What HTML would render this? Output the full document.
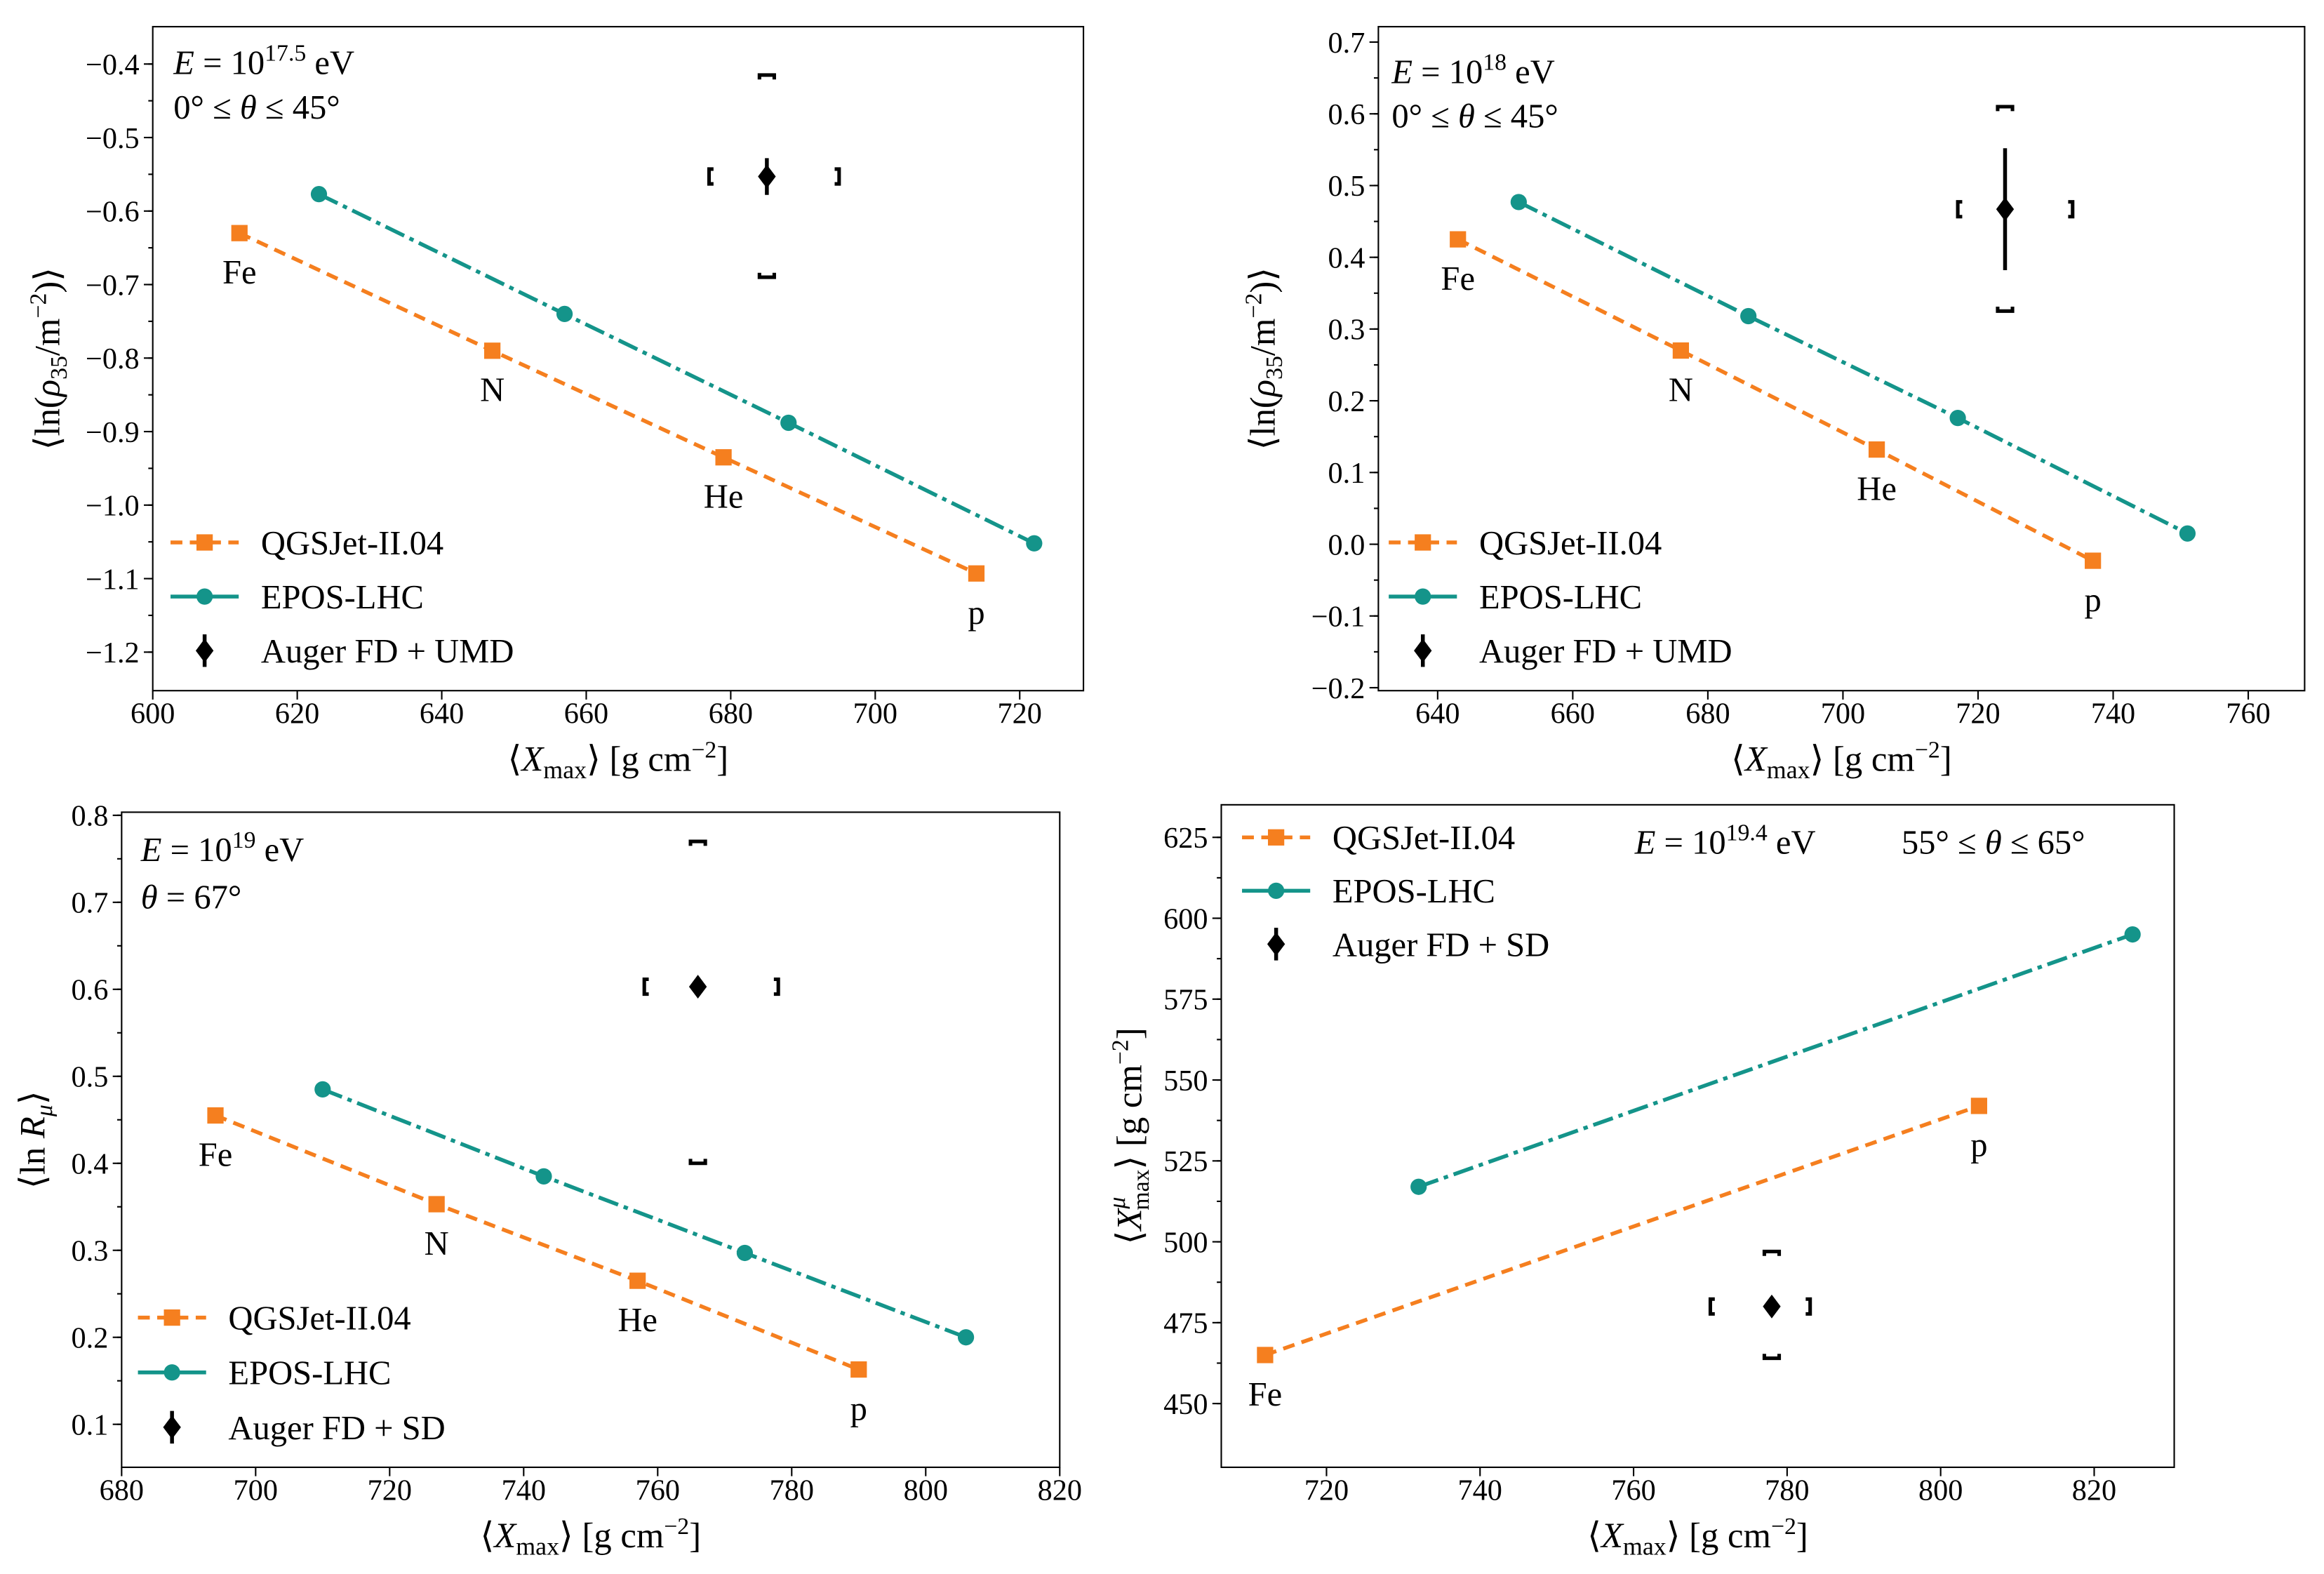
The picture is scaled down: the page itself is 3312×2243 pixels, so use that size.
<!DOCTYPE html>
<html><head><meta charset="utf-8"><style>
html,body{margin:0;padding:0;background:#fff}
svg{display:block}
text{font-family:"Liberation Serif",serif;fill:#000}
</style></head><body>
<svg id="fig" width="3312" height="2243" viewBox="0 0 1568 1062" xmlns="http://www.w3.org/2000/svg"></svg>
<script>
// Panel 1 data
const p1QgsX=[612,647,679,714], p1QgsY=[-0.63,-0.79,-0.935,-1.093];
const p1EposX=[623,657,688,722], p1EposY=[-0.577,-0.74,-0.888,-1.052];
const p1Auger=[685,-0.553,0.025], p1Sys=[677,695,-0.415,-0.69];
const p1XTicks=[600,620,640,660,680,700,720];
const p1YTicks=[-0.4,-0.5,-0.6,-0.7,-0.8,-0.9,-1.0,-1.1,-1.2];
// Panel 2 data
const p2QgsX=[643,676,705,737], p2QgsY=[0.425,0.27,0.132,-0.023];
const p2EposX=[652,686,717,751], p2EposY=[0.477,0.318,0.176,0.015];
const p2Auger=[724,0.467,0.085], p2Sys=[717,734,0.61,0.325];
const p2XTicks=[640,660,680,700,720,740,760];
const p2YTicks=[0.7,0.6,0.5,0.4,0.3,0.2,0.1,0.0,-0.1,-0.2];
// Panel 3 data
const p3QgsX=[694,727,757,790], p3QgsY=[0.455,0.353,0.265,0.163];
const p3EposX=[710,743,773,806], p3EposY=[0.485,0.385,0.297,0.2];
const p3Auger=[766,0.603,0.004], p3Sys=[758,778,0.77,0.40];
const p3XTicks=[680,700,720,740,760,780,800,820];
const p3YTicks=[0.8,0.7,0.6,0.5,0.4,0.3,0.2,0.1];
// Panel 4 data
const p4QgsX=[712,805], p4QgsY=[465,542];
const p4EposX=[732,825], p4EposY=[517,595];
const p4Auger=[778,480,1], p4Sys=[770,783,497,464];
const p4XTicks=[720,740,760,780,800,820];
const p4YTicks=[625,600,575,550,525,500,475,450];

const NS="http://www.w3.org/2000/svg", svg=document.getElementById('fig');
const OR="#f57f1f", TE="#14948a";
function mk(tag,at,par){const e=document.createElementNS(NS,tag);for(const k in at)e.setAttribute(k,at[k]);(par||svg).appendChild(e);return e;}
function fmt(v,d){let s=v.toFixed(d);if(v<0)s="\u2212"+s.slice(1);return s;}

function panel(cfg){
  const g=mk('g',{});
  
  
  const X=v=>cfg.bx0+(v-cfg.x0)/(cfg.x1-cfg.x0)*(cfg.bx1-cfg.bx0);
  const Y=v=>cfg.by1-(v-cfg.y0)/(cfg.y1-cfg.y0)*(cfg.by1-cfg.by0);
  const fr=mk('rect',{x:cfg.bx0,y:cfg.by0,width:cfg.bx1-cfg.bx0,height:cfg.by1-cfg.by0,fill:'none',stroke:'#000','stroke-width':1},g);
  
  
  cfg.xt.forEach(v=>{const x=X(v);mk('line',{x1:x,x2:x,y1:cfg.by1,y2:cfg.by1+6,stroke:'#000'},g);
    const t=mk('text',{x:x,y:cfg.by1+22,'text-anchor':'middle','font-size':20},g);t.textContent=String(v);
    
    });
  const ys=cfg.yt[0]-cfg.yt[1];
  for(let v=cfg.yt[cfg.yt.length-1];v<=cfg.yt[0]+1e-9;v+=ys/2){const y=Y(v);if(y<cfg.by0-1||y>cfg.by1+1)continue;mk('line',{x1:cfg.bx0-3,x2:cfg.bx0,y1:y,y2:y,stroke:'#000'},g);}
  cfg.yt.forEach(v=>{const y=Y(v);mk('line',{x1:cfg.bx0-6,x2:cfg.bx0,y1:y,y2:y,stroke:'#000'},g);
    const t=mk('text',{x:cfg.bx0-9,y:y+7,'text-anchor':'end','font-size':20},g);t.textContent=fmt(v,cfg.yd);
    
    });
  const xl=mk('text',{x:(cfg.bx0+cfg.bx1)/2,y:cfg.by1+54,'text-anchor':'middle','font-size':24},g);
  xl.innerHTML='⟨<tspan font-style="italic">X</tspan><tspan font-size="17" dy="5">max</tspan><tspan dy="-5">⟩ [g cm</tspan><tspan font-size="16" dy="-9">−2</tspan><tspan dy="9">]</tspan>';
  
  
  const yl=mk('text',{x:0,y:0,'text-anchor':'middle','font-size':24,transform:`translate(${cfg.ylx},${(cfg.by0+cfg.by1)/2}) rotate(-90)`},g);
  yl.innerHTML=cfg.ylab;
  
  
  function series(xs,ys,col,dash,sq,nm){
    const pl=mk('polyline',{points:xs.map((x,i)=>X(x)+','+Y(ys[i])).join(' '),fill:'none',stroke:col,'stroke-width':2.6,'stroke-dasharray':dash},g);
    
    
    xs.forEach((x,i)=>{let m;
      if(sq)m=mk('rect',{x:X(x)-5.5,y:Y(ys[i])-5.5,width:11,height:11,fill:col},g);
      else m=mk('circle',{cx:X(x),cy:Y(ys[i]),r:5.5,fill:col},g);
      
      });
  }
  series(cfg.qx,cfg.qy,OR,'8,5',true,'qgsjet');
  series(cfg.ex,cfg.ey,TE,'14,4,3,4',false,'epos');
  cfg.qx.forEach((x,i)=>{if(!cfg.labs[i])return;const t=mk('text',{x:X(x),y:Y(cfg.qy[i])+34,'text-anchor':'middle','font-size':23},g);t.textContent=cfg.labs[i];
    
    });
  const [ax,ay,ae]=cfg.aug, ag=mk('g',{},g);
  
  
  const px=X(ax),py=Y(ay);
  mk('line',{x1:px,x2:px,y1:Y(ay+ae),y2:Y(ay-ae),stroke:'#000','stroke-width':2.6},ag);
  mk('path',{d:`M${px} ${py-8}L${px+6} ${py}L${px} ${py+8}L${px-6} ${py}Z`,fill:'#000'},ag);
  const [sx0,sx1,sy0,sy1]=cfg.sys,w=5,sg=mk('g',{fill:'none',stroke:'#000','stroke-width':2.4},g);
  
  
  const a=X(sx0),b=X(sx1),c=Y(sy0),d=Y(sy1);
  mk('path',{d:`M${px-w} ${c+3}V${c}H${px+w}V${c+3}M${px-w} ${d-3}V${d}H${px+w}V${d-3}M${a+3} ${py-w}H${a}V${py+w}H${a+3}M${b-3} ${py-w}H${b}V${py+w}H${b-3}`},sg);
  const L=cfg.leg,lg=mk('g',{},g);
  
  
  const ent=[['QGSJet-II.04',OR,'8,5','sq'],['EPOS-LHC',TE,'',"ci"],[cfg.augName,'#000','','di']];
  ent.forEach((e,i)=>{const y=L.y+i*L.dy,mx=L.x+23;
    if(i<2){mk('line',{x1:L.x,x2:L.x+46,y1:y,y2:y,stroke:e[1],'stroke-width':2.6,'stroke-dasharray':e[2]},lg);
      if(e[3]=='sq')mk('rect',{x:mx-5.5,y:y-5.5,width:11,height:11,fill:e[1]},lg);else mk('circle',{cx:mx,cy:y,r:5.5,fill:e[1]},lg);}
    else{mk('line',{x1:mx,x2:mx,y1:y-11,y2:y+11,stroke:'#000','stroke-width':2.6},lg);mk('path',{d:`M${mx} ${y-8}L${mx+6} ${y}L${mx} ${y+8}L${mx-6} ${y}Z`},lg);}
    const t=mk('text',{x:L.x+61,y:y+8,'font-size':23},lg);t.textContent=e[0];
    
    });
  cfg.ann.forEach(a=>{const t=mk('text',{x:a[0],y:a[1],'font-size':23},g);t.innerHTML=a[2];
    
    });
}
const rho='⟨ln(<tspan font-style="italic">ρ</tspan><tspan font-size="16" dy="5">35</tspan><tspan dy="-5">/m</tspan><tspan font-size="16" dy="-9">−2</tspan><tspan dy="9">)⟩</tspan>';
const it=s=>`<tspan font-style="italic">${s}</tspan>`;
panel({name:'panel-e17-5',bx0:103,bx1:731,by0:18,by1:466,x0:600,x1:600+628/4.875,y0:-1.2-(466-440)/496,y1:-1.2+(466-18-26)/496,
  xt:p1XTicks,yt:p1YTicks,yd:1,ylx:40,ylab:rho,qx:p1QgsX,qy:p1QgsY,ex:p1EposX,ey:p1EposY,labs:['Fe','N','He','p'],
  aug:p1Auger,sys:p1Sys,augName:'Auger FD + UMD',leg:{x:115,y:366,dy:36.5},
  ann:[[117,50,it('E')+' = 10<tspan font-size="16" dy="-9">17.5</tspan><tspan dy="9"> eV</tspan>'],[117,80,'0° ≤ '+it('θ')+' ≤ 45°']]});
panel({name:'panel-e18',bx0:930,bx1:1555,by0:18,by1:466,x0:640-40/4.558,x1:640+(1555-970)/4.558,y0:-0.2-2/484,y1:-0.2+446/484,
  xt:p2XTicks,yt:p2YTicks,yd:1,ylx:860,ylab:rho,qx:p2QgsX,qy:p2QgsY,ex:p2EposX,ey:p2EposY,labs:['Fe','N','He','p'],
  aug:p2Auger,sys:p2Sys,augName:'Auger FD + UMD',leg:{x:937,y:366,dy:36.5},
  ann:[[939,56,it('E')+' = 10<tspan font-size="16" dy="-9">18</tspan><tspan dy="9"> eV</tspan>'],[939,86,'0° ≤ '+it('θ')+' ≤ 45°']]});
panel({name:'panel-e19',bx0:82,bx1:715,by0:548,by1:990,x0:680,x1:820,y0:0.1-29/587,y1:0.1+413/587,
  xt:p3XTicks,yt:p3YTicks,yd:1,ylx:30,ylab:'⟨ln '+it('R')+'<tspan font-size="16" dy="5" font-style="italic">μ</tspan><tspan dy="-5">⟩</tspan>',
  qx:p3QgsX,qy:p3QgsY,ex:p3EposX,ey:p3EposY,labs:['Fe','N','He','p'],
  aug:p3Auger,sys:p3Sys,augName:'Auger FD + SD',leg:{x:93,y:889,dy:37},
  ann:[[95,581,it('E')+' = 10<tspan font-size="16" dy="-9">19</tspan><tspan dy="9"> eV</tspan>'],[95,613,it('θ')+' = 67°']]});
panel({name:'panel-e19-4',bx0:824,bx1:1467,by0:543,by1:990,x0:720-71/5.18,x1:720+572/5.18,y0:450-43/2.183,y1:450+404/2.183,
  xt:p4XTicks,yt:p4YTicks,yd:0,ylx:770,ylab:'⟨'+it('X')+'<tspan font-size="16" dy="-11" font-style="italic">μ</tspan><tspan font-size="16" dx="-9" dy="16">max</tspan><tspan dy="-5">⟩ [g cm</tspan><tspan font-size="16" dy="-9">−2</tspan><tspan dy="9">]</tspan>',
  qx:p4QgsX,qy:p4QgsY,ex:p4EposX,ey:p4EposY,labs:['Fe','p'],
  aug:p4Auger,sys:p4Sys,augName:'Auger FD + SD',leg:{x:838,y:565,dy:36},
  ann:[[1103,576,it('E')+' = 10<tspan font-size="16" dy="-9">19.4</tspan><tspan dy="9"> eV</tspan>'],[1283,576,'55° ≤ '+it('θ')+' ≤ 65°']]});
</script>
</body></html>
